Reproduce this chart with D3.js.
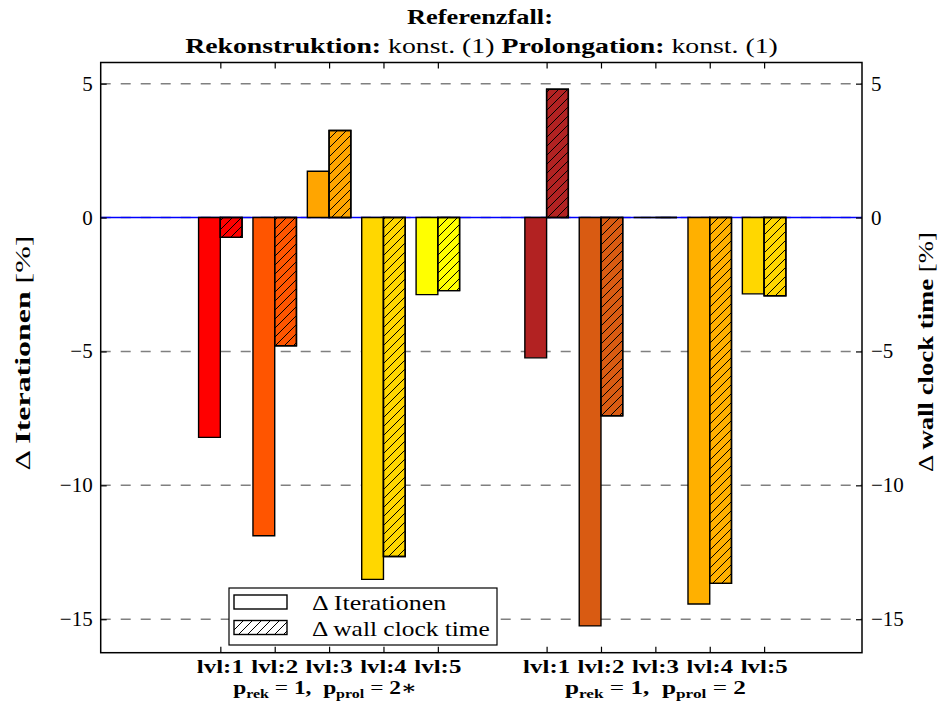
<!DOCTYPE html>
<html>
<head>
<meta charset="utf-8">
<script src="https://cdn.jsdelivr.net/npm/d3@7"></script>
<style>
  html, body { margin: 0; padding: 0; background: #fff; }
  svg { display: block; }
  text { font-family: "Liberation Serif", "DejaVu Serif", serif; fill: #000; }
</style>
</head>
<body>
<script>
// Level categories and group labels
const categories = ["lvl:1", "lvl:2", "lvl:3", "lvl:4", "lvl:5"];
const groupNames = ["A", "B"];            // A: p_prol = 2*, B: p_prol = 2
const groupStarred = [true, false];

// Relative change in iterations / wall clock time [%]
const iterA = [-8.21, -11.88, 1.73, -13.51, -2.88];
const wallA = [-0.74, -4.79, 3.25, -12.66, -2.73];
const iterB = [-5.24, -15.25, 0.0, -14.43, -2.85];
const wallB = [4.79, -7.40, 0.0, -13.66, -2.92];

// Bar colours per level
const colorsA = ["#ff0000", "#ff5500", "#ffa500", "#ffd700", "#ffff00"];
const colorsB = ["#b22222", "#d95b12", "#ff8c00", "#ffb000", "#ffd700"];

// Axis ticks
const yTicks = [5, 0, -5, -10, -15];

const W = 941, H = 703;
const svg = d3.select("body").append("svg").attr("width", W).attr("height", H);

const plot = { left: 100.7, right: 862, top: 62.5, bottom: 652.7 };
const x = d3.scaleLinear().domain([-2.2, 11.8]).range([plot.left, plot.right]);
const y = d3.scaleLinear().domain([-16.25, 5.79]).range([plot.bottom, plot.top]);
const barW = 0.4;

// Stretch a text element horizontally (in its own frame) to a given width
function fitWidth(sel, width, ax, ay, rot) {
  const w = sel.node().getBBox().width;
  const k = width / w;
  const r = rot ? ` rotate(${rot})` : "";
  sel.attr("x", 0).attr("y", 0)
    .attr("transform", `translate(${ax},${ay})${r} scale(${k},1)`);
}

// hatch pattern
const defs = svg.append("defs");
const pat = defs.append("pattern").attr("id", "hatch")
  .attr("patternUnits", "userSpaceOnUse").attr("width", 9).attr("height", 9);
pat.append("path").attr("d", "M0,9 L9,0 M-2.25,2.25 L2.25,-2.25 M6.75,11.25 L11.25,6.75")
  .attr("stroke", "#000").attr("stroke-width", 1);

const clip = defs.append("clipPath").attr("id", "plotclip");
clip.append("rect").attr("x", plot.left).attr("y", plot.top)
  .attr("width", plot.right - plot.left).attr("height", plot.bottom - plot.top);

// grid lines
const g = svg.append("g").attr("clip-path", "url(#plotclip)");
g.selectAll("line.grid").data(yTicks).join("line")
  .attr("x1", plot.left).attr("x2", plot.right)
  .attr("y1", d => y(d)).attr("y2", d => y(d))
  .attr("stroke", "#808080").attr("stroke-width", 1.5)
  .attr("stroke-dasharray", "10,10");

// zero line
g.append("line").attr("x1", plot.left).attr("x2", plot.right)
  .attr("y1", y(0)).attr("y2", y(0))
  .attr("stroke", "#0000ff").attr("stroke-width", 1.6);

// bar data
const bars = [];
[[iterA, wallA, colorsA, 0], [iterB, wallB, colorsB, 6]].forEach(([it, wa, col, off]) => {
  categories.forEach((c, i) => {
    bars.push({ pos: off + i, x0: off + i - barW, v: it[i], color: col[i], hatch: false });
    bars.push({ pos: off + i, x0: off + i, v: wa[i], color: col[i], hatch: true });
  });
});

function barPath(d) {
  const x0 = x(d.x0), x1 = x(d.x0 + barW), y0 = y(0), y1 = y(d.v);
  return `M${x0},${y0}H${x1}V${y1}H${x0}Z`;
}

g.selectAll("path.bar").data(bars).join("path")
  .attr("d", barPath).attr("fill", d => d.color)
  .attr("stroke", "#000").attr("stroke-width", 1.4);
g.selectAll("path.hatch").data(bars.filter(d => d.hatch)).join("path")
  .attr("d", barPath).attr("fill", "url(#hatch)")
  .attr("stroke", "#000").attr("stroke-width", 1.4);

// frame
svg.append("rect").attr("x", plot.left).attr("y", plot.top)
  .attr("width", plot.right - plot.left).attr("height", plot.bottom - plot.top)
  .attr("fill", "none").attr("stroke", "#000").attr("stroke-width", 1.5);

// y axes (ticks inward)
const yLeft = d3.axisRight(y).tickValues(yTicks).tickSize(6).tickFormat("");
const yRight = d3.axisLeft(y).tickValues(yTicks).tickSize(6).tickFormat("");
svg.append("g").attr("transform", `translate(${plot.left},0)`).call(yLeft)
  .call(s => s.select(".domain").remove())
  .selectAll("line").attr("stroke-width", 1.2);
svg.append("g").attr("transform", `translate(${plot.right},0)`).call(yRight)
  .call(s => s.select(".domain").remove())
  .selectAll("line").attr("stroke-width", 1.2);

const fmt = v => (v < 0 ? "\u2212" + Math.abs(v) : String(v));
svg.selectAll("text.yl").data(yTicks).join("text")
  .attr("x", plot.left - 8).attr("y", d => y(d) + 7)
  .attr("text-anchor", "end").style("font-size", "21px").text(fmt);
svg.selectAll("text.yr").data(yTicks).join("text")
  .attr("x", plot.right + 9).attr("y", d => y(d) + 7)
  .attr("text-anchor", "start").style("font-size", "21px").text(fmt);

// x ticks (top and bottom, inward)
const xTickPos = [];
[0, 6].forEach(off => categories.forEach((c, i) => xTickPos.push({ p: off + i, label: c })));
const xb = d3.axisTop(x).tickValues(xTickPos.map(d => d.p)).tickSize(6).tickFormat("");
const xt = d3.axisBottom(x).tickValues(xTickPos.map(d => d.p)).tickSize(6).tickFormat("");
svg.append("g").attr("transform", `translate(0,${plot.bottom})`).call(xb)
  .call(s => s.select(".domain").remove()).selectAll("line").attr("stroke-width", 1.2);
svg.append("g").attr("transform", `translate(0,${plot.top})`).call(xt)
  .call(s => s.select(".domain").remove()).selectAll("line").attr("stroke-width", 1.2);

svg.selectAll("text.xl").data(xTickPos).join("text")
  .attr("text-anchor", "middle").style("font-size", "19px").style("font-weight", "bold")
  .text(d => d.label)
  .each(function (d) { fitWidth(d3.select(this), 47, x(d.p), plot.bottom + 20); });

// group labels
const groupWidths = [184, 181];
groupNames.forEach((gname, gi) => {
  const cx = x(gi * 6 + 2) - (gi === 0 ? 4 : 0);
  const t = svg.append("text").attr("text-anchor", "middle")
    .style("font-size", "19px").style("font-weight", "bold");
  t.append("tspan").text("p");
  t.append("tspan").attr("dy", 4).style("font-size", "13px").text("rek");
  t.append("tspan").attr("dy", -4).style("font-weight", "normal").text(" = ");
  t.append("tspan").text("1,");
  t.append("tspan").text("\u2002p");
  t.append("tspan").attr("dy", 4).style("font-size", "13px").text("prol");
  t.append("tspan").attr("dy", -4).style("font-weight", "normal").text(" = ");
  t.append("tspan").text(groupStarred[gi] ? "2\u2217" : "2");
  fitWidth(t, groupWidths[gi], cx, plot.bottom + 41);
});

// title
const t1 = svg.append("text").attr("text-anchor", "middle")
  .style("font-size", "22px").style("font-weight", "bold").text("Referenzfall:");
fitWidth(t1, 146, 480, 24);
const t2 = svg.append("text").attr("text-anchor", "middle").style("font-size", "22px");
t2.append("tspan").style("font-weight", "bold").text("Rekonstruktion:");
t2.append("tspan").text(" konst. (1) ");
t2.append("tspan").style("font-weight", "bold").text("Prolongation:");
t2.append("tspan").text(" konst. (1)");
fitWidth(t2, 593, 481.5, 53);

// axis labels
function yLabel(xc, yc, bold, len) {
  const t = svg.append("text").attr("text-anchor", "middle").style("font-size", "22px");
  t.append("tspan").text("\u0394 ");
  t.append("tspan").style("font-weight", "bold").text(bold);
  t.append("tspan").text(" [%]");
  fitWidth(t, len, xc, yc, -90);
}
yLabel(30, 353, "Iterationen", 235);
yLabel(933, 352, "wall clock time", 240);

// legend
const lg = svg.append("g");
lg.append("rect").attr("x", 229).attr("y", 588).attr("width", 268).attr("height", 57)
  .attr("fill", "#fff").attr("stroke", "#000").attr("stroke-width", 1.2);
const legendItems = [{ label: "Iterationen", hatch: false, w: 135 }, { label: "wall clock time", hatch: true, w: 178 }];
legendItems.forEach((d, i) => {
  const yy = 595 + i * 25.5;
  lg.append("rect").attr("x", 234).attr("y", yy).attr("width", 53).attr("height", 14)
    .attr("fill", d.hatch ? "url(#hatch)" : "#fff").attr("stroke", "#000").attr("stroke-width", 1.4);
  const lt = lg.append("text").style("font-size", "21px").text("\u0394 " + d.label);
  fitWidth(lt, d.w, 312, yy + 15);
});
</script>
</body>
</html>
